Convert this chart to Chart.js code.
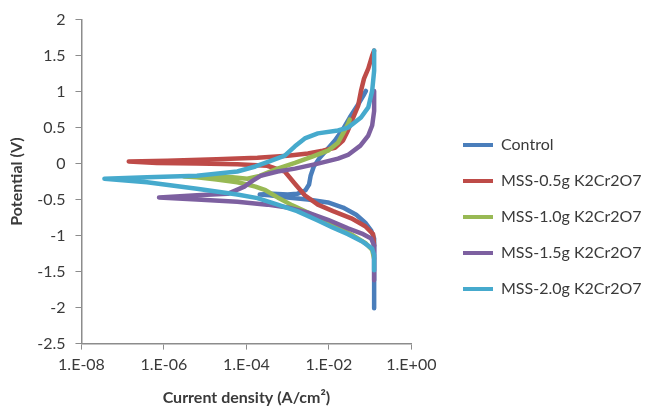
<!DOCTYPE html>
<html><head><meta charset="utf-8">
<script src="https://cdn.jsdelivr.net/npm/chart.js@4.4.1/dist/chart.umd.min.js"></script>
<style>html,body{margin:0;padding:0;background:#fff;}</style>
</head><body>
<canvas id="c" width="646" height="408"></canvas>
<script>
// ---- data (current density A/cm2, potential V), path: cathodic end -> Ecorr -> anodic end
const seriesNames = ['Control', 'MSS-0.5g K2Cr2O7', 'MSS-1.0g K2Cr2O7', 'MSS-1.5g K2Cr2O7', 'MSS-2.0g K2Cr2O7'];
const seriesColors = ['#4A7EBB', '#BE4B48', '#98B954', '#7D60A0', '#46AACD'];

const controlI = [0.125, 0.125, 0.125, 0.125, 0.106, 0.076, 0.046, 0.022, 0.0095, 0.0031, 0.0010, 3.6e-4, 2.1e-4, 4.3e-4, 1.0e-3, 1.7e-3, 2.7e-3, 3.3e-3, 3.6e-3, 4.3e-3, 6.0e-3, 0.0095, 0.014, 0.022, 0.032, 0.051, 0.068, 0.079];
const controlE = [-2.01, -1.62, -1.20, -1.04, -0.93, -0.82, -0.71, -0.61, -0.54, -0.50, -0.47, -0.44, -0.43, -0.42, -0.43, -0.42, -0.37, -0.29, -0.17, -0.04, 0.08, 0.21, 0.32, 0.48, 0.64, 0.82, 0.94, 1.01];

const mss05I = [0.125, 0.118, 0.076, 0.035, 0.0126, 0.0054, 0.0026, 0.0015, 8.5e-4, 3.2e-4, 6.0e-5, 6.3e-6, 6.7e-7, 1.4e-7, 1.2e-6, 1.9e-5, 1.85e-4, 1.0e-3, 3.1e-3, 7.1e-3, 0.014, 0.022, 0.029, 0.039, 0.051, 0.060, 0.071, 0.090, 0.112, 0.125];
const mss05E = [-1.14, -0.98, -0.87, -0.76, -0.66, -0.57, -0.44, -0.28, -0.11, -0.03, -0.01, 0.00, 0.01, 0.03, 0.04, 0.06, 0.08, 0.11, 0.14, 0.18, 0.22, 0.32, 0.46, 0.64, 0.80, 1.01, 1.18, 1.32, 1.50, 1.57];

const mss10I = [0.125, 0.112, 0.079, 0.039, 0.0166, 0.0071, 0.0031, 1.3e-3, 5.7e-4, 2.9e-4, 1.65e-4, 1.05e-4, 6.0e-5, 1.9e-5, 6.3e-6, 3.1e-6, 1.1e-5, 4.6e-5, 1.05e-4, 2.1e-4, 5.7e-4, 1.5e-3, 4.1e-3, 0.0095, 0.0166, 0.022, 0.029, 0.032];
const mss10E = [-1.32, -1.20, -1.11, -1.00, -0.89, -0.79, -0.68, -0.58, -0.47, -0.37, -0.32, -0.29, -0.26, -0.22, -0.19, -0.18, -0.18, -0.19, -0.21, -0.17, -0.07, 0.01, 0.10, 0.18, 0.29, 0.42, 0.55, 0.61];

const mss15I = [0.125, 0.125, 0.125, 0.106, 0.068, 0.029, 0.0095, 0.0031, 1.0e-3, 3.2e-4, 6.0e-5, 6.3e-6, 7.6e-7, 6.3e-6, 3.5e-5, 8.9e-5, 1.4e-4, 2.2e-4, 5.7e-4, 1.5e-3, 5.4e-3, 0.0166, 0.029, 0.058, 0.090, 0.112, 0.125, 0.125];
const mss15E = [-1.62, -1.34, -1.14, -1.04, -0.98, -0.90, -0.78, -0.68, -0.61, -0.57, -0.53, -0.50, -0.47, -0.44, -0.42, -0.32, -0.24, -0.17, -0.11, -0.07, 0.00, 0.07, 0.12, 0.25, 0.39, 0.53, 0.73, 1.01];

const mss20I = [0.125, 0.125, 0.112, 0.068, 0.029, 0.0126, 0.0054, 1.7e-3, 5.7e-4, 1.85e-4, 6.0e-5, 6.3e-6, 3.9e-7, 3.6e-8, 3.9e-7, 6.3e-6, 6.0e-5, 1.65e-4, 3.6e-4, 8.5e-4, 1.5e-3, 2.6e-3, 5.4e-3, 0.0166, 0.029, 0.060, 0.090, 0.112, 0.125, 0.125];
const mss20E = [-1.48, -1.27, -1.18, -1.09, -0.98, -0.89, -0.79, -0.66, -0.57, -0.48, -0.43, -0.35, -0.26, -0.21, -0.19, -0.17, -0.11, -0.04, 0.03, 0.11, 0.24, 0.35, 0.42, 0.46, 0.50, 0.64, 0.78, 1.01, 1.29, 1.57];

const xTickValues = [1e-8, 1e-6, 1e-4, 1e-2, 1];
const xTickLabels = ['1.E-08', '1.E-06', '1.E-04', '1.E-02', '1.E+00'];
const yMin = -2.5, yMax = 2, yStep = 0.5;

const seriesI = [controlI, mss05I, mss10I, mss15I, mss20I];
const seriesE = [controlE, mss05E, mss10E, mss15E, mss20E];

const FONT = 'Lato, "Open Sans", sans-serif';
const TEXT = '#3a3a3a';
const AXIS = '#8c8c8c';

const datasets = seriesNames.map((name, k) => ({
  label: name,
  data: seriesI[k].map((v, j) => ({x: v, y: seriesE[k][j]})),
  showLine: true,
  borderColor: seriesColors[k],
  backgroundColor: seriesColors[k],
  borderWidth: 4.5,
  pointRadius: 0,
  borderJoinStyle: 'round',
  borderCapStyle: 'round',
  tension: 0,
  order: seriesNames.length - 1 - k
}));

const legendPlace = {
  id: 'legendPlace',
  afterLayout(chart) {
    const lg = chart.legend;
    if (!lg) return;
    const pad = lg.options.labels.padding;
    const dx = 463 - pad - lg.left;
    lg.left += dx; lg.right += dx;
    const dy = 217 - (lg.top + lg.bottom) / 2;
    lg.top += dy; lg.bottom += dy;
  }
};

new Chart(document.getElementById('c'), {
  type: 'scatter',
  data: {datasets},
  plugins: [legendPlace],
  options: {
    responsive: false,
    animation: false,
    events: [],
    layout: {padding: {left: 7, right: 26, top: 10, bottom: 1}},
    plugins: {
      tooltip: {enabled: false},
      legend: {
        position: 'right',
        align: 'center',
        maxWidth: 232,
        labels: {
          font: {family: FONT, size: 16},
          color: TEXT,
          boxWidth: 30,
          boxHeight: 4,
          padding: 20,
          sort: (a, b) => a.datasetIndex - b.datasetIndex,
          generateLabels(chart) {
            const items = Chart.defaults.plugins.legend.labels.generateLabels(chart);
            items.forEach(it => { it.lineWidth = 0; it.fillStyle = seriesColors[it.datasetIndex]; });
            return items;
          }
        }
      }
    },
    scales: {
      x: {
        type: 'logarithmic',
        min: xTickValues[0],
        max: xTickValues[xTickValues.length - 1],
        afterBuildTicks(scale) { scale.ticks = xTickValues.map(v => ({value: v})); },
        ticks: {
          font: {family: FONT, size: 16},
          color: TEXT,
          padding: 6,
          maxRotation: 0,
          autoSkip: false,
          callback(value) {
            const i = xTickValues.findIndex(v => Math.abs(Math.log10(v) - Math.log10(value)) < 1e-6);
            return i >= 0 ? xTickLabels[i] : '';
          }
        },
        grid: {display: true, drawOnChartArea: false, drawTicks: true, tickLength: 6, color: AXIS},
        border: {display: true, color: AXIS, width: 1.5},
        title: {display: true, text: 'Current density (A/cm²)', font: {family: FONT, size: 16, weight: 'bold'}, color: TEXT, padding: {top: 7, bottom: 0}}
      },
      y: {
        type: 'linear',
        min: yMin, max: yMax,
        ticks: {stepSize: yStep, font: {family: FONT, size: 16}, color: TEXT, padding: 10,
          callback: (v) => String(Math.round(v * 10) / 10)},
        grid: {display: true, drawOnChartArea: false, drawTicks: true, tickLength: 6, color: AXIS},
        border: {display: true, color: AXIS, width: 1.5},
        title: {display: true, text: 'Potential (V)', font: {family: FONT, size: 16, weight: 'bold'}, color: TEXT, padding: {top: 0, bottom: 1}}
      }
    }
  }
});
</script>
</body></html>
